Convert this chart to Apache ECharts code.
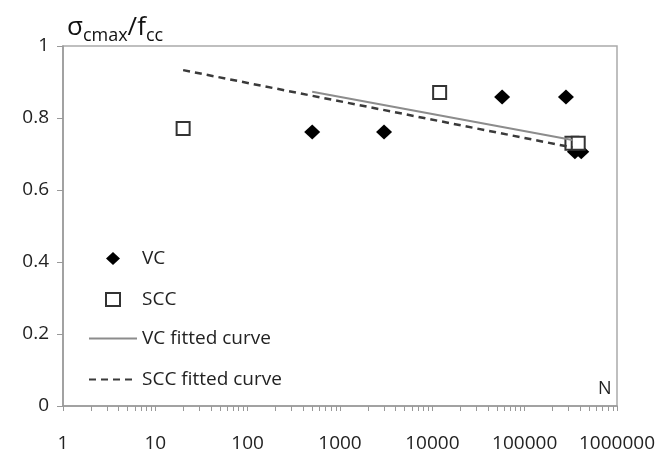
<!DOCTYPE html>
<html>
<head>
<meta charset="utf-8">
<script src="https://cdn.jsdelivr.net/npm/echarts@6/dist/echarts.min.js"></script>
<style>
  html, body { margin: 0; padding: 0; background: #fff; }
  #main { width: 661px; height: 450px; }
</style>
</head>
<body>
<div id="main"></div>
<script>
// number of cycles N and sigma_cmax/f_cc ratios
var vcN   = [500, 3000, 57000, 280000, 350000, 410000];
var vcR   = [0.761, 0.761, 0.858, 0.858, 0.706, 0.706];
var sccN  = [20, 12000, 325000, 380000];
var sccR  = [0.771, 0.871, 0.730, 0.730];
var vcFitN  = [500, 330000];
var vcFitR  = [0.873, 0.739];
var sccFitN = [20, 330000];
var sccFitR = [0.933, 0.718];

var myChart = echarts.init(document.getElementById('main'));
var font = 'Open Sans';

function pts(xs, ys) {
  var out = [];
  for (var i = 0; i < xs.length; i++) out.push([Math.log10(xs[i]), ys[i]]);
  return out;
}

// log ticks 1..9 per decade
var logTicks = [];
for (var d = 0; d < 6; d++) {
  for (var k = 1; k < 10; k++) logTicks.push(Math.log10(k * Math.pow(10, d)));
}
logTicks.push(6);

var legendText = { fontFamily: font, fontSize: 19, color: '#222' };

var option = {
  animation: false,
  backgroundColor: '#fff',
  title: {
    text: '{a|σ}{b|cmax}{a|/f}{b|cc}',
    left: 62, top: 10,
    textStyle: {
      fontWeight: 'normal',
      rich: {
        a: { fontFamily: font, fontSize: 26, fontWeight: 'normal', color: '#111', verticalAlign: 'bottom' },
        b: { fontFamily: font, fontSize: 18, fontWeight: 'normal', color: '#111', verticalAlign: 'bottom', padding: [0, 0, -4, 0] }
      }
    }
  },
  legend: [
    {
      orient: 'vertical',
      left: 105, top: 249, padding: 0,
      itemWidth: 14, itemHeight: 13, itemGap: 22,
      textStyle: { fontFamily: font, fontSize: 19, color: '#222', padding: [0, 0, 0, 17] },
      data: ['VC', 'SCC']
    },
    {
      orient: 'vertical',
      left: 88, top: 329, padding: 0,
      itemWidth: 48, itemHeight: 13, itemGap: 22,
      itemStyle: { opacity: 0 },
      textStyle: legendText,
      data: ['VC fitted curve', 'SCC fitted curve']
    }
  ],
  grid: {
    left: 63, right: 44, top: 46, bottom: 44,
    outerBoundsMode: 'none',
    show: true, borderColor: '#aaa', borderWidth: 1.5
  },
  xAxis: {
    type: 'value', min: 0, max: 6, interval: 1,
    name: 'N', nameLocation: 'end', nameGap: -19,
    nameTextStyle: { fontFamily: font, fontSize: 18, color: '#222', verticalAlign: 'bottom', padding: [0, 0, 8, 0] },
    axisLine: { lineStyle: { color: '#999', width: 1.5 } },
    axisTick: { show: true, length: 5, customValues: logTicks, lineStyle: { color: '#999' } },
    axisLabel: {
      fontFamily: font, fontSize: 19, color: '#222', margin: 28,
      formatter: function (v) { return String(Math.round(Math.pow(10, v))); }
    },
    splitLine: { show: false }
  },
  yAxis: {
    type: 'value', min: 0, max: 1, interval: 0.2,
    axisLine: { show: true, lineStyle: { color: '#999', width: 1.5 } },
    axisTick: { show: true, length: 6, lineStyle: { color: '#999' } },
    axisLabel: { fontFamily: font, fontSize: 19, color: '#222', margin: 14 },
    splitLine: { show: false }
  },
  series: [
    {
      name: 'VC fitted curve', type: 'line', symbol: 'none',
      data: pts(vcFitN, vcFitR),
      lineStyle: { color: '#8c8c8c', width: 2 },
      itemStyle: { color: '#8c8c8c' }
    },
    {
      name: 'SCC fitted curve', type: 'line', symbol: 'none',
      data: pts(sccFitN, sccFitR),
      lineStyle: { color: '#3a3a3a', width: 2.5, type: [7, 5] },
      itemStyle: { color: '#3a3a3a' }
    },
    {
      name: 'VC', type: 'scatter', symbol: 'diamond', symbolSize: [16, 15],
      data: pts(vcN, vcR),
      itemStyle: { color: '#000', opacity: 1 }
    },
    {
      name: 'SCC', type: 'scatter', symbol: 'rect', symbolSize: 13,
      data: pts(sccN, sccR),
      itemStyle: { color: '#fff', borderColor: '#333', borderWidth: 2, opacity: 1 }
    }
  ]
};

myChart.setOption(option);
</script>
</body>
</html>
